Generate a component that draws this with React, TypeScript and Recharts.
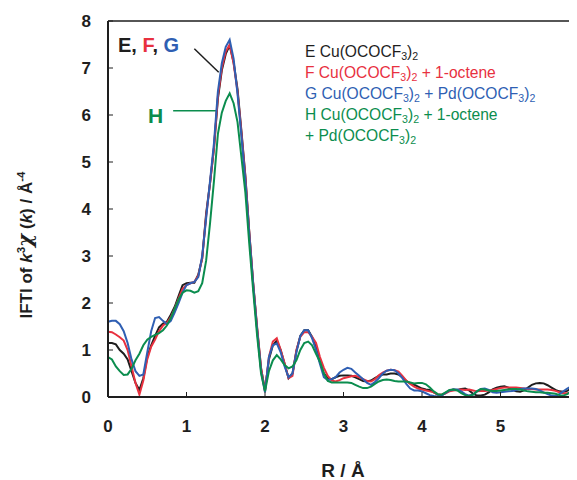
import React from 'react';
import { LineChart, Line, XAxis, YAxis, ReferenceLine } from 'recharts';

const R = [
  0.0, 0.05, 0.1, 0.15, 0.2, 0.25, 0.3, 0.35, 0.4, 0.45,
  0.5, 0.55, 0.6, 0.65, 0.7, 0.75, 0.8, 0.85, 0.9, 0.95,
  1.0, 1.05, 1.1, 1.15, 1.2, 1.25, 1.3, 1.35, 1.4, 1.45,
  1.5, 1.55, 1.6, 1.65, 1.7, 1.75, 1.8, 1.85, 1.9, 1.95,
  2.0, 2.05, 2.1, 2.15, 2.2, 2.25, 2.3, 2.35, 2.4, 2.45,
  2.5, 2.55, 2.6, 2.65, 2.7, 2.75, 2.8, 2.85, 2.9, 2.95,
  3.0, 3.05, 3.1, 3.15, 3.2, 3.25, 3.3, 3.35, 3.4, 3.45,
  3.5, 3.55, 3.6, 3.65, 3.7, 3.75, 3.8, 3.85, 3.9, 3.95,
  4.0, 4.05, 4.1, 4.15, 4.2, 4.25, 4.3, 4.35, 4.4, 4.45,
  4.5, 4.55, 4.6, 4.65, 4.7, 4.75, 4.8, 4.85, 4.9, 4.95,
  5.0, 5.05, 5.1, 5.15, 5.2, 5.25, 5.3, 5.35, 5.4, 5.45,
  5.5, 5.55, 5.6, 5.65, 5.7, 5.75, 5.8, 5.85, 5.9, 5.95,
  6.0,
];

// E Cu(OCOCF3)2
const E_VALUES = [
  1.15, 1.15, 1.12, 1.0, 0.92, 0.8, 0.55, 0.3, 0.15, 0.4,
  0.85, 1.1, 1.3, 1.48, 1.56, 1.6, 1.75, 1.92, 2.15, 2.38,
  2.42, 2.43, 2.43, 2.6, 2.95, 3.9, 4.55, 5.3, 6.35, 6.95,
  7.3, 7.48, 7.12, 6.55, 5.65, 4.7, 3.5, 2.4, 1.45, 0.6,
  0.15, 0.8, 1.1, 1.2, 1.0, 0.7, 0.4, 0.5, 0.98, 1.3,
  1.42, 1.42, 1.28, 1.05, 0.75, 0.5, 0.4, 0.38, 0.42, 0.45,
  0.46, 0.46, 0.45, 0.42, 0.38, 0.34, 0.33, 0.35, 0.4, 0.45,
  0.48, 0.48, 0.5, 0.5, 0.48, 0.42, 0.34, 0.29, 0.26, 0.22,
  0.18, 0.16, 0.15, 0.1, 0.05, 0.04, 0.08, 0.14, 0.16, 0.15,
  0.17, 0.18, 0.14, 0.07, 0.03, 0.03, 0.05, 0.1, 0.16, 0.2,
  0.22, 0.23, 0.2, 0.15, 0.12, 0.11, 0.14, 0.2, 0.26, 0.29,
  0.3, 0.29, 0.25, 0.2, 0.15, 0.12, 0.11, 0.13, 0.18, 0.2,
  0.18,
];

// F Cu(OCOCF3)2 + 1-octene
const F_VALUES = [
  1.39, 1.38, 1.33, 1.27, 1.2, 1.0, 0.65, 0.3, 0.05, 0.35,
  0.8, 1.07, 1.22, 1.4, 1.52, 1.58, 1.7, 1.88, 2.1, 2.3,
  2.38, 2.42, 2.45, 2.58, 2.95, 3.85, 4.55, 5.3, 6.4, 7.0,
  7.35, 7.5, 7.1, 6.5, 5.62, 4.68, 3.5, 2.42, 1.48, 0.62,
  0.12, 0.85, 1.18, 1.25, 1.0, 0.72, 0.4, 0.45, 1.0, 1.28,
  1.38, 1.38, 1.28, 1.15, 0.85, 0.62, 0.45, 0.35, 0.33, 0.36,
  0.4, 0.42, 0.44, 0.45, 0.42, 0.38, 0.34, 0.33, 0.38, 0.46,
  0.52, 0.56, 0.58, 0.57, 0.54, 0.45, 0.35, 0.28, 0.22, 0.18,
  0.16, 0.14, 0.12, 0.1, 0.06, 0.05, 0.08, 0.12, 0.14, 0.15,
  0.16, 0.15, 0.16, 0.14, 0.12, 0.13, 0.13, 0.14, 0.15, 0.17,
  0.19, 0.2, 0.2, 0.2, 0.2, 0.19, 0.18, 0.17, 0.17, 0.16,
  0.16, 0.16, 0.16, 0.15, 0.13, 0.1, 0.08, 0.08, 0.09, 0.09,
  0.09,
];

// G Cu(OCOCF3)2 + Pd(OCOCF3)2
const G_VALUES = [
  1.6, 1.62, 1.62, 1.55, 1.4, 1.15, 0.8, 0.55, 0.45, 0.48,
  0.95, 1.4, 1.68, 1.7, 1.62, 1.55, 1.62, 1.8, 2.0, 2.22,
  2.38, 2.42, 2.45, 2.55, 3.0, 3.8, 4.6, 5.4, 6.5, 7.1,
  7.45, 7.6, 7.2, 6.45, 5.55, 4.6, 3.45, 2.38, 1.42, 0.55,
  0.1, 0.85, 1.1, 1.14, 0.95, 0.65, 0.42, 0.5, 0.95, 1.3,
  1.42, 1.42, 1.25, 1.0, 0.7, 0.42, 0.36, 0.38, 0.42, 0.52,
  0.58, 0.62, 0.6, 0.52, 0.45, 0.38, 0.3, 0.26, 0.32, 0.4,
  0.5, 0.56, 0.58, 0.57, 0.5, 0.4, 0.28, 0.18, 0.14, 0.14,
  0.12, 0.08, 0.04, 0.02, 0.01, 0.03, 0.09, 0.14, 0.16, 0.16,
  0.12, 0.06, 0.03, 0.05, 0.12, 0.17, 0.18, 0.15, 0.1, 0.09,
  0.1, 0.11, 0.12, 0.13, 0.15, 0.17, 0.18, 0.18, 0.18, 0.17,
  0.14, 0.1, 0.06, 0.03, 0.02, 0.06, 0.12, 0.18, 0.22, 0.25,
  0.27,
];

// H Cu(OCOCF3)2 + 1-octene + Pd(OCOCF3)2
const H_VALUES = [
  0.85, 0.8, 0.65, 0.55, 0.47, 0.48, 0.6, 0.78, 0.92, 1.1,
  1.22, 1.28, 1.32, 1.36, 1.42, 1.52, 1.68, 1.88, 2.08, 2.22,
  2.27, 2.26, 2.22, 2.25, 2.42, 2.9, 3.7, 4.6, 5.6, 6.05,
  6.3, 6.46, 6.25, 5.85, 5.1, 4.35, 3.25, 2.25, 1.3, 0.5,
  0.12, 0.55, 0.78, 0.89, 0.8, 0.68, 0.61, 0.65, 0.78, 1.0,
  1.15, 1.18, 1.1, 0.92, 0.75, 0.5, 0.34, 0.31, 0.31, 0.31,
  0.31, 0.31, 0.3, 0.26, 0.22, 0.19, 0.19, 0.22, 0.28, 0.33,
  0.36, 0.37, 0.36, 0.34, 0.33, 0.33, 0.33, 0.31, 0.29, 0.3,
  0.3, 0.27, 0.2, 0.12, 0.06, 0.05, 0.1, 0.15, 0.16, 0.14,
  0.08, 0.04, 0.02, 0.05, 0.12, 0.17, 0.16, 0.14, 0.13, 0.13,
  0.14, 0.15, 0.16, 0.17, 0.17, 0.16, 0.14, 0.12, 0.11, 0.1,
  0.1, 0.09, 0.09, 0.08, 0.07, 0.04, 0.03, 0.06, 0.12, 0.18,
  0.2,
];

const X_TICKS = [0, 1, 2, 3, 4, 5, 6];
const Y_TICKS = [0, 1, 2, 3, 4, 5, 6, 7, 8];

// annotation pointer segments (data coordinates)
const EFG_POINTER = [
  { x: 1.1, y: 7.41 },
  { x: 1.41, y: 6.91 },
];
const H_POINTER = [
  { x: 0.83, y: 6.09 },
  { x: 1.38, y: 6.09 },
];

const COLORS = {
  E: '#1e1e1e',
  F: '#e8313f',
  G: '#2f5fb3',
  H: '#0b8d4e',
};

const FONT = '"Liberation Sans", Arial, Helvetica, sans-serif';

const data = R.map((r, i) => ({
  r,
  E: E_VALUES[i],
  F: F_VALUES[i],
  G: G_VALUES[i],
  H: H_VALUES[i],
}));

const subStyle: React.CSSProperties = {
  fontSize: '0.68em',
  verticalAlign: '-0.28em',
  lineHeight: 0,
};
const supStyle: React.CSSProperties = {
  fontSize: '0.68em',
  verticalAlign: '0.62em',
  lineHeight: 0,
};

const Cu = () => (
  <>
    Cu(OCOCF<span style={subStyle}>3</span>)<span style={subStyle}>2</span>
  </>
);
const Pd = () => (
  <>
    Pd(OCOCF<span style={subStyle}>3</span>)<span style={subStyle}>2</span>
  </>
);

export default function App() {
  return (
    <div
      style={{
        position: 'relative',
        width: 569,
        height: 472,
        overflow: 'hidden',
        fontFamily: FONT,
        background: '#fff',
      }}
    >
      <LineChart
        width={600}
        height={472}
        data={data}
        margin={{ top: 13, right: 29, bottom: 0, left: 0 }}
      >
        <XAxis
          dataKey="r"
          type="number"
          domain={[0, 6]}
          ticks={X_TICKS}
          interval={0}
          height={83}
          axisLine={{ stroke: '#1e1e1e', strokeWidth: 2 }}
          tickLine={{ stroke: '#1e1e1e', strokeWidth: 1 }}
          tickSize={-5}
          tickMargin={28}
          tick={{ fill: '#1e1e1e', fontSize: 17, fontWeight: 'bold', fontFamily: FONT }}
        />
        <YAxis
          type="number"
          domain={[0, 8]}
          ticks={Y_TICKS}
          interval={0}
          width={100}
          axisLine={{ stroke: '#1e1e1e', strokeWidth: 2 }}
          tickLine={{ stroke: '#1e1e1e', strokeWidth: 1 }}
          tickSize={-5}
          tickMargin={22}
          tick={{ fill: '#1e1e1e', fontSize: 17, fontWeight: 'bold', fontFamily: FONT }}
        />
        <ReferenceLine y={8} stroke="#1e1e1e" strokeWidth={1.5} />
        <ReferenceLine segment={EFG_POINTER} stroke="#1e1e1e" strokeWidth={1.5} />
        <ReferenceLine segment={H_POINTER} stroke={COLORS.H} strokeWidth={1.5} />
        <Line type="linear" dataKey="E" stroke={COLORS.E} strokeWidth={2} dot={false} isAnimationActive={false} />
        <Line type="linear" dataKey="F" stroke={COLORS.F} strokeWidth={2} dot={false} isAnimationActive={false} />
        <Line type="linear" dataKey="G" stroke={COLORS.G} strokeWidth={2} dot={false} isAnimationActive={false} />
        <Line type="linear" dataKey="H" stroke={COLORS.H} strokeWidth={2} dot={false} isAnimationActive={false} />
      </LineChart>

      {/* E, F, G annotation */}
      <div
        style={{
          position: 'absolute',
          left: 110,
          top: 27,
          fontSize: 20,
          fontWeight: 'bold',
          lineHeight: 1,
          whiteSpace: 'nowrap',
        }}
      >
        <span style={{ color: COLORS.E }}>E, </span>
        <span style={{ color: COLORS.F }}>F</span>
        <span style={{ color: COLORS.E }}>, </span>
        <span style={{ color: COLORS.G }}>G</span>
      </div>
      <div
        style={{
          position: 'absolute',
          left: 140,
          top: 97,
          fontSize: 21,
          fontWeight: 'bold',
          lineHeight: 1,
          color: COLORS.H,
        }}
      >
        H
      </div>

      {/* legend */}
      <div
        style={{
          position: 'absolute',
          left: 297,
          top: 33,
          fontSize: 15.6,
          lineHeight: '21px',
          whiteSpace: 'nowrap',
        }}
      >
        <div style={{ color: COLORS.E }}>
          E <Cu />
        </div>
        <div style={{ color: COLORS.F }}>
          F <Cu /> + 1-octene
        </div>
        <div style={{ color: COLORS.G }}>
          G <Cu /> + <Pd />
        </div>
        <div style={{ color: COLORS.H }}>
          H <Cu /> + 1-octene
        </div>
        <div style={{ color: COLORS.H }}>
          + <Pd />
        </div>
      </div>

      {/* y axis label */}
      <div
        style={{
          position: 'absolute',
          left: 17,
          top: 237,
          transform: 'translate(-50%, -50%) rotate(-90deg)',
          fontSize: 17,
          fontWeight: 'bold',
          lineHeight: 1,
          whiteSpace: 'nowrap',
          color: '#1e1e1e',
        }}
      >
        IFTI of <i>k</i>
        <span style={supStyle}>3</span>
        <i style={{ fontFamily: '"DejaVu Serif", "Liberation Serif", serif', fontSize: 20 }}>χ</i>{' '}
        (<i>k</i>) / Å<span style={supStyle}>-4</span>
      </div>

      {/* x axis label */}
      <div
        style={{
          position: 'absolute',
          left: 335,
          top: 453,
          transform: 'translateX(-50%)',
          fontSize: 19,
          fontWeight: 'bold',
          lineHeight: 1,
          whiteSpace: 'nowrap',
          color: '#1e1e1e',
        }}
      >
        R / Å
      </div>
    </div>
  );
}
